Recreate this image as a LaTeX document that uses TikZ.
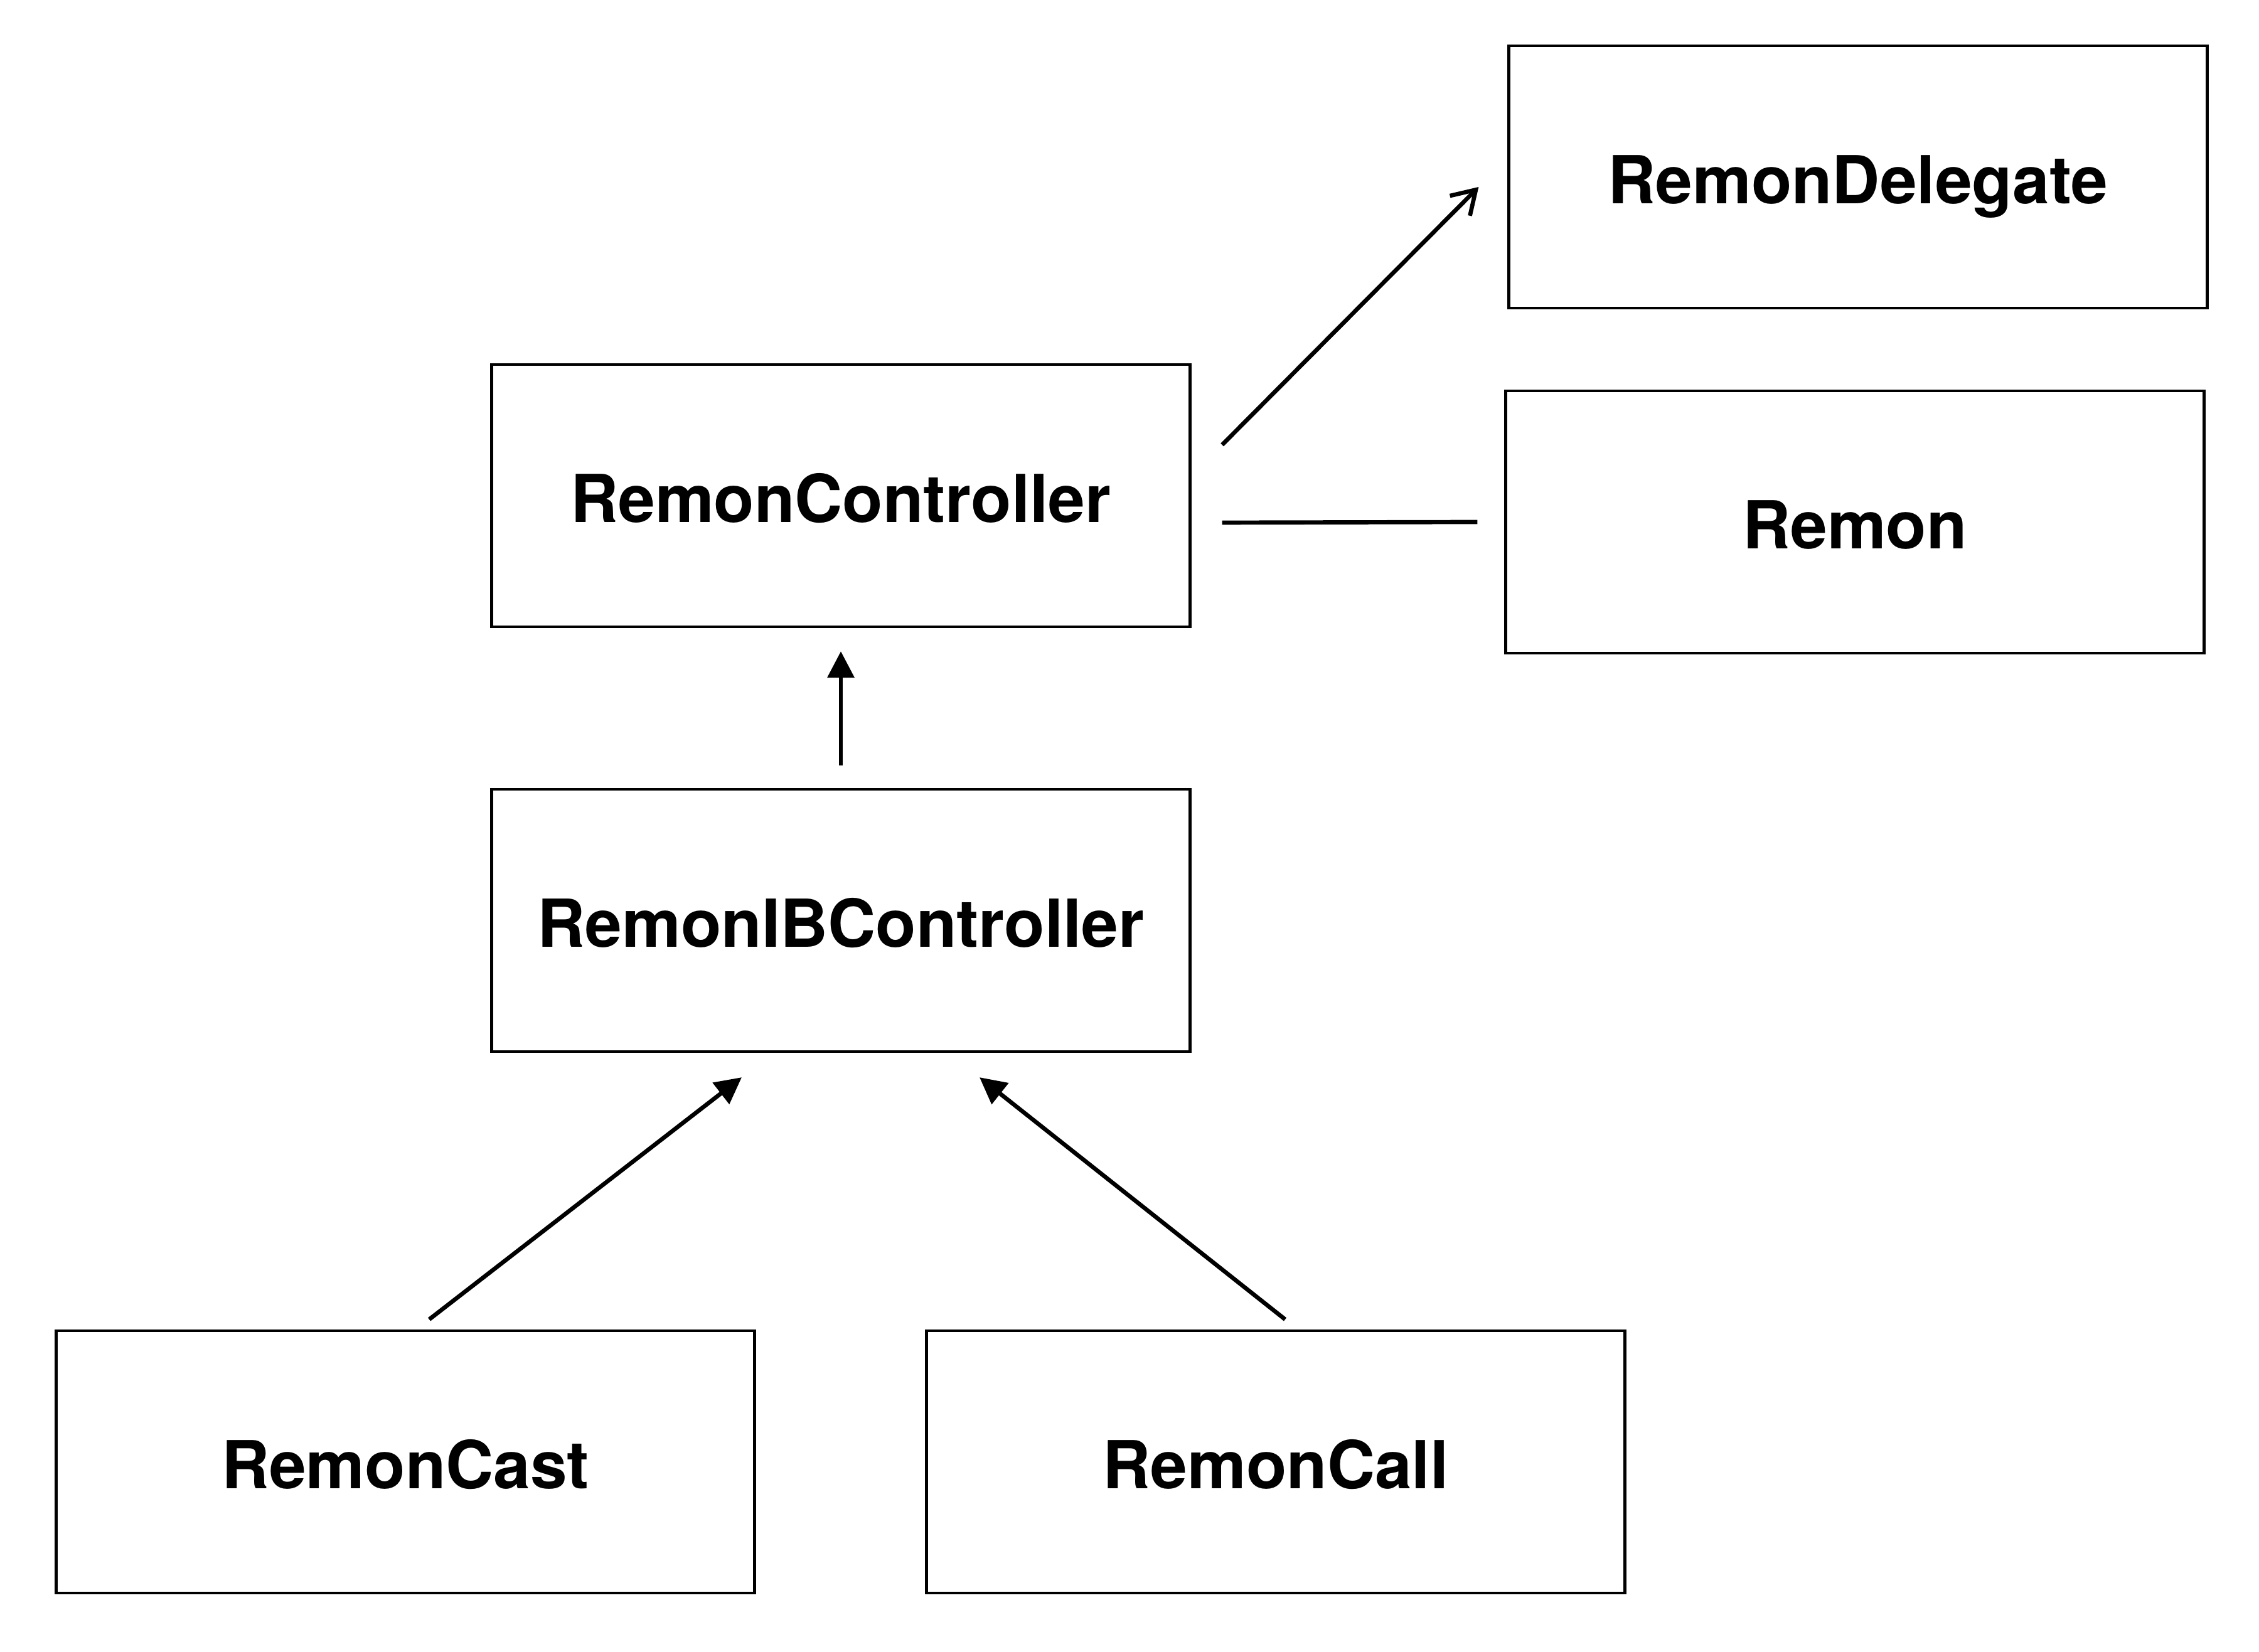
\documentclass[tikz,border=0pt]{standalone}
\usepackage{fontspec}
\setmainfont{TeX Gyre Heros}
\usetikzlibrary{arrows.meta}
\tikzset{
  classbox/.style={draw,line width=1.2pt,minimum width=11.13cm,minimum height=4.18cm,
    text height=24.5pt,text depth=0.3pt,
    font=\fontsize{30}{36}\selectfont\bfseries},
  link/.style={line width=1.9pt},
  filledtip/.style={link,-{Triangle[width=0.42cm,length=0.42cm]}},
  opentip/.style={link,-{Straight Barb[length=0.36cm,width=0.45cm,line width=1.9pt]}}
}
\begin{document}
\begin{tikzpicture}
      \useasboundingbox (0,0) rectangle (36,26.32);
      \node[classbox] (deleg) at (29.61,23.50) {RemonDelegate};
      \node[classbox] (remon) at (29.56,18.00) {Remon};
      \node[classbox] (ctrl) at (13.40,18.42) {RemonController};
      \node[classbox] (ib) at (13.40,11.65) {RemonIBController};
      \node[classbox] (cast) at (6.46,3.02) {RemonCast};
      \node[classbox] (call) at (20.33,3.02) {RemonCall};
      \draw[opentip] ([shift={(0.49,0.81)}]ctrl.east) -- ([shift={(-0.46,-0.16)}]deleg.west);
      \draw[link] ([shift={(0.49,-0.43)}]ctrl.east) -- ([xshift=-0.43cm]remon.west);
      \draw[filledtip,shorten <=0.36cm,shorten >=0.37cm] (ib.north) -- (ctrl.south);
      \draw[filledtip] ([shift={(0.38,0.16)}]cast.north) -- ([shift={(-1.58,-0.39)}]ib.south);
      \draw[filledtip] ([shift={(0.15,0.16)}]call.north) -- ([shift={(2.21,-0.39)}]ib.south);
\end{tikzpicture}
\end{document}
